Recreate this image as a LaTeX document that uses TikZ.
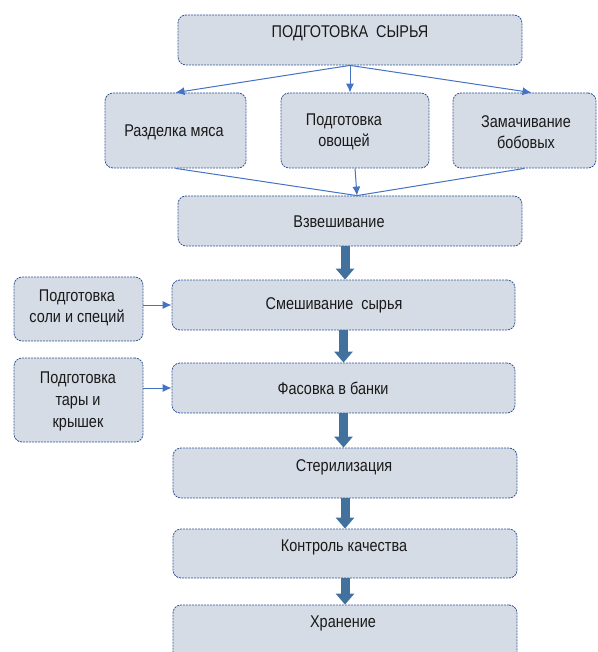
\documentclass[tikz,border=0pt]{standalone}
\usepackage{fontspec}
\setmainfont[FakeStretch=0.85]{Liberation Sans}
\usetikzlibrary{arrows.meta,calc}
\definecolor{boxfill}{HTML}{D6DCE5}
\definecolor{boxline}{HTML}{2F5597}
\definecolor{thinblue}{HTML}{4472C4}
\definecolor{thickblue}{HTML}{41719C}
\begin{document}
\begin{tikzpicture}[x=1pt,y=-1pt,
  box/.style={draw=boxline, dash pattern=on 2pt off 1pt, line width=0.8pt, fill=boxfill, rounded corners=8pt, inner sep=0pt},
  lbl/.style={font=\fontsize{17}{20.5}\selectfont, align=center, text=black!90, inner sep=0pt},
  thinarr/.style={draw=thinblue, line width=1pt, -{Latex[length=9pt,width=8pt]}},
  thinline/.style={draw=thinblue, line width=1pt},
  bigarr/.style={draw=thickblue, line width=9pt, -{Triangle[length=11pt,width=18pt]}}]
\useasboundingbox (0,0) rectangle (597,652);
% boxes
\node[box, minimum width=344pt, minimum height=50pt] (top) at (350,40) {};
\node[box, minimum width=141pt, minimum height=75pt] (r1) at (175.5,130.5) {};
\node[box, minimum width=148pt, minimum height=75pt] (r2) at (355,130.5) {};
\node[box, minimum width=143pt, minimum height=75pt] (r3) at (524.5,130.5) {};
\node[box, minimum width=344pt, minimum height=50pt] (w) at (350,221) {};
\node[box, minimum width=343pt, minimum height=50pt] (mix) at (343.5,305) {};
\node[box, minimum width=129pt, minimum height=64pt] (salt) at (78.5,309) {};
\node[box, minimum width=343pt, minimum height=50pt] (pack) at (343.5,388) {};
\node[box, minimum width=129pt, minimum height=84pt] (tara) at (78.5,400) {};
\node[box, minimum width=344pt, minimum height=50pt] (ster) at (345,473) {};
\node[box, minimum width=344pt, minimum height=49pt] (ctrl) at (345,553.5) {};
\node[box, minimum width=344pt, minimum height=60pt] (store) at (345,635) {};
% labels
\node[lbl] (ttop) at (350,33) {ПОДГОТОВКА\hspace{4pt} СЫРЬЯ};
\node[lbl] (tr1) at (174,132) {Разделка мяса};
\node[lbl] (tr2) at (344,132) {Подготовка\\овощей};
\node[lbl] (tr3) at (526,132) {Замачивание\\бобовых};
\node[lbl] (tw) at (339,222) {Взвешивание};
\node[lbl] (tmix) at (334,305) {Смешивание\hspace{4pt} сырья};
\node[lbl] (tsalt) at (77,308) {Подготовка\\соли и специй};
\node[lbl] (tpack) at (333,388) {Фасовка в банки};
\node[lbl, font=\fontsize{17}{22}\selectfont] (ttara) at (78,401) {Подготовка\\тары и\\крышек};
\node[lbl] (tster) at (344,467) {Стерилизация};
\node[lbl] (tctrl) at (344,547) {Контроль качества};
\node[lbl] (tstore) at (343,623) {Хранение};
% thin connectors
\draw[thinarr] (top.south) -- (r1.north);
\draw[thinarr] (top.south) -- (top.south |- r2.north);
\draw[thinarr] (top.south) -- ($(r3.north)+(7,0)$);
\coordinate (join) at ($(w.north)+(7,0)$);
\draw[thinline] (r1.south) -- (join);
\draw[thinline] (r3.south) -- (join);
\draw[thinarr] (r2.south) -- (join);
\draw[thinarr] (salt.east |- mix.west) -- (mix.west);
\draw[thinarr] (tara.east |- pack.west) -- (pack.west);
% thick connectors
\coordinate (wout) at ($(w.south)+(-5,0)$);
\draw[bigarr] (wout) -- (wout |- mix.north);
\draw[bigarr] (mix.south) -- (pack.north);
\draw[bigarr] (pack.south) -- (pack.south |- ster.north);
\draw[bigarr] (ster.south) -- (ctrl.north);
\draw[bigarr] (ctrl.south) -- (store.north);
\end{tikzpicture}
\end{document}
